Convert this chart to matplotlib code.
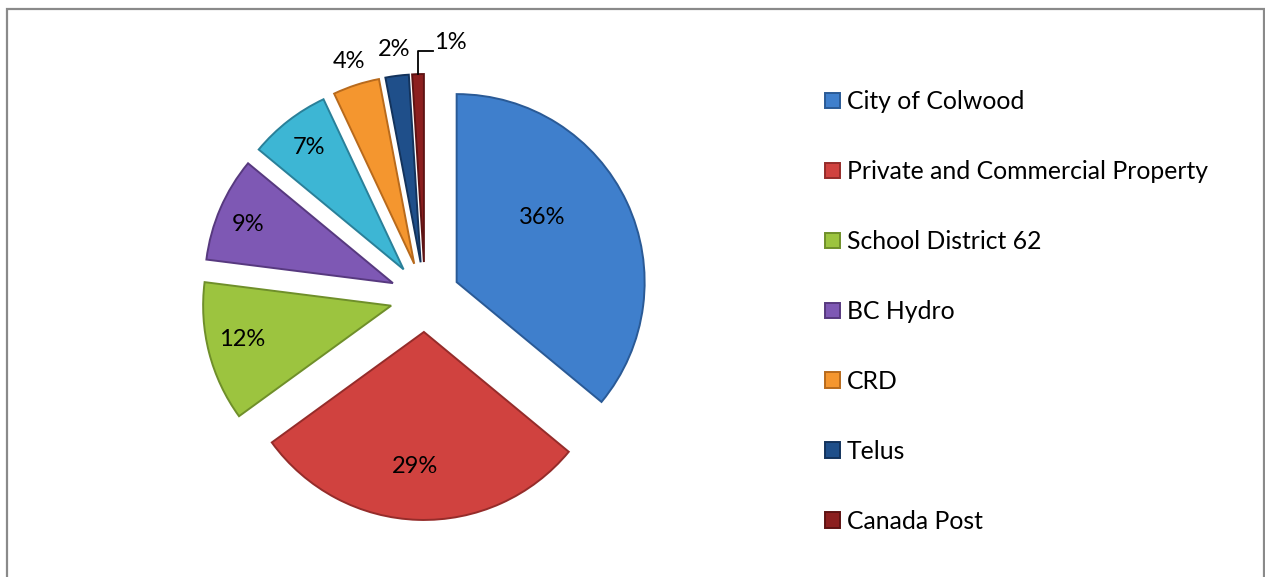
import numpy as np
import matplotlib.pyplot as plt
from matplotlib.patches import Rectangle

plt.rcParams['font.family'] = ['Lato', 'DejaVu Sans']

# === data ===
names = ["City of Colwood", "Private and Commercial Property", "School District 62",
         "BC Hydro", "", "CRD", "Telus", "Canada Post"]
shares = [36, 29, 12, 9, 7, 4, 2, 1]
in_legend = [True, True, True, True, False, True, True, True]
colors = ["#3f7fcc", "#d0423f", "#9cc43f", "#7e58b4", "#3db6d4", "#f4962f", "#1f4f8a", "#8c1f1f"]
edges = ["#2a5a96", "#952c2a", "#6f8f2a", "#57397f", "#2a8099", "#b86a1c", "#13335c", "#5e1313"]

# label placement: distance from wedge tip (fraction of radius) and position across the wedge
lab_dist = [0.57, 0.72, 0.81, 0.83, 0.82, 1.13, 1.14, 1.14]
lab_frac = [0.41, 0.52, 0.54, 0.46, 0.5, 0.5, 0.5, 0.5]

W, H = 1265, 577
fig = plt.figure(figsize=(W / 100, H / 100), dpi=100)
ax = fig.add_axes([0, 0, 1, 1])

cx, cy, R = 425, 280, 188
expl = 0.186  # fraction of radius

wedges, _ = ax.pie(shares, colors=colors, explode=[expl * R] * len(shares), startangle=90,
                   counterclock=False, radius=R, center=(cx, cy), frame=True,
                   wedgeprops=dict(linewidth=1.4))
for w, ec in zip(wedges, edges):
    w.set_edgecolor(ec)
ax.set_xlim(0, W)
ax.set_ylim(0, H)
ax.set_aspect('equal')
ax.axis('off')

FS = 17
# percentage labels
for i, (w, s) in enumerate(zip(wedges, shares)):
    tx, ty = w.center
    # pie is clockwise: theta2 is the start, theta1 the end
    th = np.deg2rad(w.theta2 + (w.theta1 - w.theta2) * lab_frac[i])
    thm = np.deg2rad((w.theta1 + w.theta2) / 2)
    if s == 1:
        # leader line from the outer arc
        x0 = tx + R * np.cos(thm)
        y0 = ty + R * np.sin(thm)
        ax.plot([x0, x0, x0 + 15], [y0, y0 + 23, y0 + 23], color='black', lw=1.3)
        ax.text(x0 + 16, y0 + 32, f"{s}%", ha='left', va='center', fontsize=FS)
    else:
        d = lab_dist[i] * R
        ax.text(tx + d * np.cos(th), ty + d * np.sin(th), f"{s}%",
                ha='center', va='center', fontsize=FS)

handles = [w for w, k in zip(wedges, in_legend) if k]
leg_names = [n for n, k in zip(names, in_legend) if k]
fig.legend(handles, leg_names, loc='center left', bbox_to_anchor=(825 / W, 0.46),
           frameon=False, fontsize=17.8, handlelength=0.6, handleheight=0.6,
           handletextpad=0.28, labelspacing=1.9, borderpad=0, borderaxespad=0)

# chart border
fig.patches.append(Rectangle((7 / W, -0.05), (W - 8) / W, 1.05 - 9 / H,
                             transform=fig.transFigure, fill=False,
                             edgecolor='#8a8a8a', linewidth=1.6))

plt.savefig("out.png", dpi=100)
plt.close()
